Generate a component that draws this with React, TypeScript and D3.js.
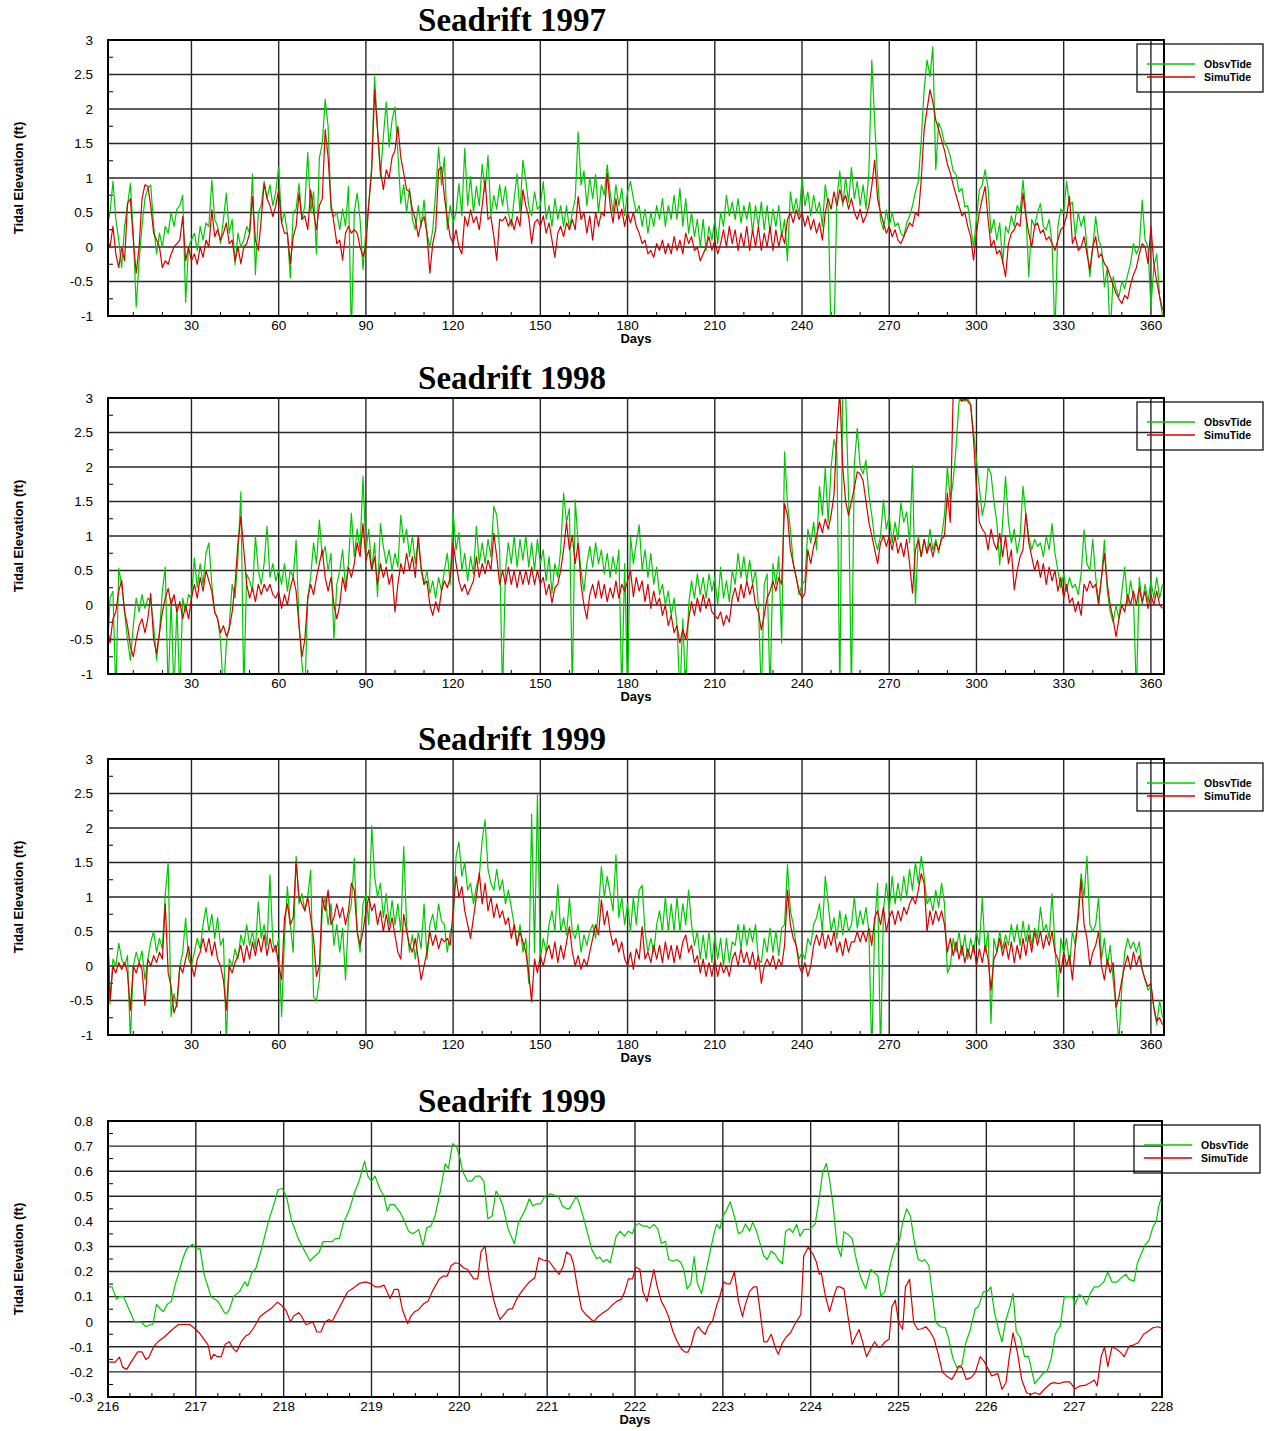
import React from 'react';
import * as d3 from 'd3';

const W = 1264;
const H = 1431;
const GREEN = '#00c800';
const RED = '#d60000';
const SANS = '"Liberation Sans", Arial, Helvetica, sans-serif';
const SERIF = '"Liberation Serif", "Times New Roman", Times, serif';

// ---------- yearly panels: one value per day, day 1 .. 364 ----------
const yearDays: number[] = d3.range(1, 365);

const obs1997 = [
  0.3,0.5,0.95,0.4,0.1,-0.3,0.3,0.6,0.92,0.2,
  -0.87,-0.2,0.3,0.7,0.85,0.9,0.3,-0.1,0.2,0,
  0.3,0.2,0.5,0.3,0.55,0.6,0.75,-0.8,0,0.1,
  0.2,-0.05,0.3,0.1,0.35,0.3,0.97,0.4,0.3,0.05,
  0.4,0.78,0.2,0.4,-0.26,0.2,0,0.1,0.3,0.2,
  1.06,-0.4,0.5,0.6,0.95,0.7,0.9,0.6,0.8,1.16,
  0.35,0.5,0.2,-0.45,0.5,0.55,0.92,0.4,0.6,1.37,
  0.5,0.8,-0.1,1.29,1.5,2.14,1.75,0.54,0.44,0.5,
  0.25,0.55,0.3,0.88,-1.3,0.5,0.78,0.4,-0.33,0.25,
  0.63,1.17,2.47,1.7,1.02,1.6,2.1,1.45,1.84,2.03,
  1.36,0.63,0.9,0.5,0.85,0.4,0.25,0.6,0.3,0.68,
  0.2,0,0.25,0.8,1.45,0.9,1.3,0.25,0.6,0.35,
  0.5,0.92,0.45,1.43,0.6,1.02,0.5,0.88,0.6,1.2,
  0.8,1.33,0.45,0.75,0.55,0.9,0.6,0.88,0.5,0.3,
  0.7,1.06,0.5,1.26,0.97,0.6,0.45,0.8,0.55,0.6,
  0.95,0.4,0.6,0.3,0.7,0.4,0.6,0.3,0.6,0.25,
  0.5,0.7,1.67,0.9,1.1,0.6,1,0.7,1.05,0.5,
  0.9,0.75,1.19,0.8,0.5,0.9,0.6,0.85,0.45,0.8,
  0.95,0.7,0.5,0.6,0.3,0.55,0.2,0.5,0.3,0.6,
  0.4,0.7,0.3,0.6,0.4,0.75,0.4,0.85,0.3,0.7,
  0.2,0.5,0.15,0.4,0,0.4,-0.05,0.3,0.1,0.4,
  0.05,0.5,0.3,0.75,0.45,0.65,0.4,0.7,0.35,0.6,
  0.4,0.65,0.2,0.6,0.3,0.65,0.25,0.6,0.2,0.55,
  0.3,0.6,0.15,0.4,-0.2,0.8,0.5,0.7,0.45,1,
  0.6,0.8,0.45,0.75,0.5,0.65,0.3,0.9,0.6,-1.3,
  -1.3,0.7,1.1,0.6,1,0.65,1.15,0.7,0.95,0.6,
  0.9,0.55,1.1,2.71,1.8,1,0.4,0.25,0.54,0.3,
  0.5,0.3,0.35,0.2,0.15,0.35,0.45,0.6,0.8,0.95,
  1.55,2.28,2.71,2.47,2.9,1.12,1.8,1.7,1.5,1.45,
  1.31,1.1,1.05,0.8,0.85,0.58,0.6,0.3,0,0.4,
  0.83,0.9,1.12,0.85,0.2,0.4,0.1,0.35,-0.24,0.3,
  0.2,0.45,0.3,0.6,0.5,0.97,0.5,-0.43,0.4,0.3,
  0.5,0.63,0.3,0.25,0.4,0.05,-1.3,0.3,0.55,0.5,
  0.95,0.6,0.65,0.15,0.5,0.3,0.45,0,-0.43,0,
  0.44,0.1,0,-0.58,-0.3,-1.3,-0.43,-0.6,-0.72,-0.5,
  -0.6,-0.4,-0.24,0.05,-0.1,0,0.68,0.1,0,-0.87,
  -0.3,-0.1,-0.72,-1.0,
];

const simu1997 = [
  0.1,0,0.3,-0.1,-0.3,0,-0.2,0.63,0.7,0.1,
  -0.38,0,0.7,0.9,0.88,0.6,0.2,0.1,0,-0.3,
  -0.2,-0.25,-0.1,0,0.05,0.1,0.44,-0.2,0,-0.2,
  -0.1,-0.25,0,-0.15,0.1,0,0.54,0.15,0.25,0.1,
  0.2,0.35,0.05,0.1,-0.2,0,-0.24,0,0.05,0.2,
  0.73,0.1,-0.05,0.4,0.92,0.7,0.6,0.44,0.6,0.83,
  0.35,0.2,0.2,-0.24,0.15,0.3,0.78,0.4,0.45,0.25,
  0.83,0.5,0.25,0.6,0.7,1.7,1.3,0.63,0.35,0.05,
  0.1,-0.19,0.2,0.3,0.2,0.25,0.2,0,-0.14,0,
  0.63,1.12,2.28,1.7,1.12,0.83,1.12,1,1.3,1.4,
  1.75,1.3,1.07,0.83,0.8,0.54,0.4,0.15,0.35,0.44,
  0.2,-0.38,0.05,0.25,1.12,1.16,0.73,0.4,0.15,0.05,
  0.25,0,-0.1,0.44,0.3,0.54,0.35,0.44,0.25,0.6,
  0.97,0.4,0.44,0.15,-0.19,0.4,0.38,0.44,0.3,0.4,
  0.25,0.44,0.3,0.83,0.6,0.44,0.05,0.35,0.4,0.3,
  0.45,0.2,0.35,0.1,-0.15,0.2,0.3,0.15,0.35,0.25,
  0.4,0.25,0.73,0.4,0.5,0.2,0.45,0.1,0.5,0.3,
  0.5,0.45,1.07,0.6,0.35,0.7,0.4,0.55,0.3,0.5,
  0.35,0.5,0.3,0.2,0.05,0.1,-0.1,-0.05,-0.15,0.05,
  -0.05,0.1,-0.1,0.05,-0.1,0.15,-0.05,0.1,-0.1,0.2,
  0.05,0.15,-0.05,0,-0.2,-0.1,0,0.15,-0.05,0.1,
  -0.1,0.05,0.25,0,0.3,0.05,0.25,-0.05,0.2,0,
  0.3,-0.05,0.25,0,0.3,-0.05,0.2,0,0.3,-0.05,
  0.25,0,0.2,0.05,0.4,0.5,0.35,0.54,0.4,0.5,
  0.3,0.45,0.25,0.4,0.2,0.35,0.1,0.5,0.7,0.55,
  0.8,0.6,0.83,0.65,0.75,0.55,0.7,0.5,0.4,0.55,
  0.35,0.45,0.6,0.88,1.26,0.7,0.5,0.35,0.2,0.3,
  0.15,0.25,0.1,0.05,0.15,0.25,0.35,0.3,0.5,0.45,
  0.97,1.7,1.99,2.28,2.1,1.84,1.7,1.55,1.4,1.2,
  1.07,0.9,0.75,0.6,0.45,0.5,0.3,0.15,-0.19,0.2,
  0.5,0.7,0.88,0.4,0,0.1,-0.1,-0.05,-0.2,-0.43,
  0.05,0.2,0.25,0.35,0.3,0.78,0.45,0.2,0,0.3,
  0.35,0.2,0.25,0.1,0.15,0.05,-0.05,0.1,0.25,0.3,
  0.45,0.73,0.05,0.15,-0.05,0,0.15,-0.1,-0.33,0,
  0.15,-0.15,-0.1,-0.24,-0.3,-0.43,-0.55,-0.67,-0.75,-0.82,
  -0.7,-0.75,-0.55,-0.4,-0.3,-0.1,0.05,0,-0.24,0.3,
  -0.24,-0.5,-0.72,-0.91,
];

const obs1998 = [
  -0.8,0.1,0.2,-1.3,0.53,0.3,-0.1,-0.5,-0.8,-0.3,
  0.1,-0.1,0.15,-0.05,0.1,0.05,-0.3,-0.8,-0.4,0.2,
  0.55,-1.3,0.1,-1.3,0,-1.3,0.1,-0.1,0.15,0.1,
  0.68,0.25,0.6,0.3,0.75,0.9,0.3,-0.1,-0.2,-0.5,
  -1.3,-0.55,-0.3,0.3,0.1,0.7,1.64,-1.3,0.45,0.35,
  0.2,1,0.5,0.3,0.6,1.14,0.4,0.6,0.35,0.5,
  0.3,0.6,0.2,0.5,0.4,0.94,-0.27,-0.85,-1.3,0.1,
  0.4,0.9,0.6,1.23,0.7,0.85,0.5,0.75,-0.5,0.3,
  0.5,0.8,0.25,0.6,1.33,0.7,1.1,0.8,1.86,0.8,
  1.1,0.5,0.9,0.12,1.18,0.85,0.6,0.8,0.5,0.75,
  0.55,1.3,0.9,1.1,0.7,1,0.6,0.95,0.5,0.3,
  0.5,0.17,0.35,0.1,0.4,0.2,0.5,0.75,0.3,1.35,
  0.8,1.05,0.5,0.75,0.35,0.7,0.45,1.14,0.6,0.9,
  0.6,0.95,0.7,1.43,1.3,0.8,-1.3,0.5,0.9,0.6,
  1,0.55,0.95,0.65,1,0.55,0.9,0.5,0.95,0.6,
  0.8,0.35,0.7,0.17,0.6,0.4,0.8,1.62,1.2,1.4,
  -1.3,1.52,0.9,0.5,0.2,0.6,0.85,0.55,0.9,0.6,
  0.8,0.45,0.75,0.4,0.7,0.45,0.8,-1.3,0.6,-1.3,
  1,0.6,0.9,1.16,0.5,0.8,0.4,0.75,0.3,0.55,
  0.15,0.3,0,0.2,-0.15,0.1,-0.3,-1.3,-0.2,-1.3,
  0,0.35,0.1,0.45,0.15,0.4,0.1,0.45,0.2,0.4,
  0,0.55,0.1,0.35,0.05,0.5,0.3,0.75,0.4,0.7,
  0.35,0.65,0.3,0.5,0,-1.3,0.3,0.45,-1.3,0.6,
  0.3,0.7,-0.55,2.22,1.47,1.1,0.6,0.4,0.15,0.3,
  0.35,1.1,0.9,1.2,0.8,1.72,1.3,1.98,1.2,2,
  2.4,2.2,-1.3,3.1,3.1,1.6,-1.3,2.05,2.56,2,
  1.9,2.1,1.6,1.3,0.95,0.8,1,1.52,1.1,1.3,
  0.9,1.2,0.95,1.48,1.2,1.35,0.9,2.02,0,1,
  0.7,0.95,0.75,1.1,0.8,0.95,0.75,1,1.3,2,
  1.5,1.8,2.3,2.95,3,2.95,3,2.9,2.5,2.1,
  1.7,1.3,1.5,2,1.9,1.5,1.2,0.58,1.2,1.86,
  1.2,0.9,1.1,0.75,1,1.72,1.3,1,0.8,0.95,
  0.85,0.9,0.7,1,0.8,1.18,0.75,0.5,0.25,0.45,
  0.2,0.4,0.25,0.3,0.15,0.45,1.09,0.6,0.5,0.95,
  0.4,0.05,0.4,0.94,0.2,-0.1,-0.25,0,-0.2,0.2,
  0.55,0,0.35,0.1,-1.3,0.4,0,0.3,0.05,0.35,
  0.1,0.4,0.1,0.3,
];

const simu1998 = [
  -0.3,-0.55,-0.2,-0.1,0.2,0.36,-0.1,-0.3,-0.6,-0.75,
  -0.5,-0.3,-0.2,-0.4,-0.2,0.17,-0.5,-0.7,-0.4,-0.1,
  0.1,0.24,0,0.15,-0.1,0.05,-0.2,0,-0.2,0.1,
  0.3,0.1,0.4,0.2,0.5,0.35,0.2,-0.1,-0.2,-0.4,
  -0.3,-0.45,-0.35,-0.1,0.3,0.9,1.28,0.8,0.3,0.1,
  0.25,0.05,0.3,0.15,0.3,0.2,0.3,0.15,0.1,0.2,
  -0.05,0.15,0,0.25,0.4,0.2,-0.3,-0.75,-0.5,0.1,
  0.3,0.15,0.4,0.6,0.8,0.4,0.2,0.4,0,-0.2,
  0,0.4,0.2,0.55,0.4,0.6,0.9,0.7,1.18,0.65,
  0.8,0.5,0.7,0.3,0.6,0.4,0.55,0.3,0.45,-0.1,
  0.3,0.6,0.45,0.75,0.5,0.7,0.4,1,0.55,0.3,
  0.35,0,-0.15,0.05,-0.1,0.2,0.35,0.25,0.4,0.9,
  0.6,0.35,0.2,0.3,0.15,0.25,0.35,0.7,0.4,0.6,
  0.45,0.65,0.5,1.04,0.7,0.3,0.5,0.3,0.55,0.3,
  0.5,0.25,0.5,0.3,0.5,0.3,0.55,0.3,0.5,0.3,
  0.4,0.15,0.3,0.03,0.25,0.3,0.5,0.8,1.2,0.8,
  1,0.6,0.9,0.3,0,-0.2,0.15,0.3,0.1,0.35,
  0.1,0.3,0.05,0.25,0.1,0.35,0.1,0.3,0.2,0.35,
  0.5,0.12,0.4,0.2,0.35,0.05,0.3,-0.05,0.2,0,
  0.1,-0.15,0,-0.3,-0.15,-0.4,-0.3,-0.55,-0.35,-0.5,
  -0.2,0.05,-0.15,0.1,-0.1,0.15,-0.05,0.1,-0.1,-0.15,
  -0.2,-0.1,-0.3,-0.15,-0.25,0.1,0.25,0.05,0.3,0.1,
  0.35,0.15,0.3,0,-0.1,-0.36,-0.15,0.1,0.2,0.35,
  0.2,0.4,0.3,1.47,1.3,0.8,0.6,0.4,0.2,0.1,
  0.17,0.8,0.6,0.85,1,1.2,1.05,1.25,1.1,1.3,
  1.6,2.5,3.1,2,1.5,1.3,1.5,1.7,1.93,1.9,
  1.8,1.5,1.2,1,0.8,0.6,0.9,1,0.85,1,
  0.8,1,0.75,0.9,0.7,0.95,0.6,0.17,0.8,0.95,
  0.7,0.95,0.75,0.9,0.7,0.9,0.8,0.95,1,1.62,
  1.2,3.1,3.1,3,2.95,3,2.95,2.9,2.4,1.7,
  1.2,1.1,1.04,0.8,1.1,0.9,0.8,1.04,0.7,1,
  0.6,0.8,0.22,0.5,0.7,0.8,1.33,0.9,0.7,0.5,
  0.65,0.4,0.6,0.3,0.55,0.35,0.5,0.2,0.4,0.1,
  0.3,0.03,0.1,-0.1,0.05,-0.15,0.3,0.2,0.35,0.25,
  0.3,0,0.4,0.75,0.3,0,-0.2,-0.46,-0.2,0,
  -0.1,0.15,0,0.2,0,0.25,0.05,0.2,-0.05,0.15,
  0,0.2,0,-0.05,
];

const obs1999 = [
  0.96,-0.55,0.1,0,0.33,0.1,0,0.15,-1.1,0,
  0.2,0.05,0.22,-0.2,0.1,0.35,0.5,0.2,0.4,0.25,
  1.05,1.51,-0.73,-0.4,-0.6,0,0.2,0.69,0.1,0,
  0.2,0.4,0.25,0.6,0.85,0.5,0.75,0.4,0.7,0.3,
  0.4,-1.1,0.1,0,0.25,0.1,0.45,0.3,0.6,0.3,
  0.5,0.25,0.93,0.4,0.6,0.3,1.32,0.35,0.2,0.4,
  -0.73,0.4,1.15,0.6,0.2,1.59,0.9,1.05,0.8,1,
  1.39,-0.45,-0.5,-0.2,0.8,1,0.6,0.9,0.3,0.6,
  0.2,0.55,-0.2,0.7,0.9,1.56,0.5,0.2,0.9,1.05,
  0.6,2.03,1.3,1,1.2,0.7,1.05,0.6,0.95,0.6,
  0.9,0.5,1.73,0.6,0.2,0.45,0.1,0.5,0.25,0.9,
  0.1,0.6,0.75,0.5,0.9,0.65,0.6,0.2,0.5,0.6,
  1.59,1.8,1.3,1.5,1.1,1.2,0.9,1.15,1.3,1.83,
  2.12,1.4,1.2,1.1,1.4,1.1,1.25,0.9,1.1,0.85,
  0.6,0.3,0.6,0.2,0.4,-0.25,2.2,0.2,2.48,0.1,
  0.4,0.2,0.6,0.8,0.5,1.18,0.5,0.7,0.45,0.98,
  0.5,0.4,0.6,0.2,0.45,0.3,0.5,0.6,0.4,0.8,
  1.44,1,1.3,1.05,0.8,1.61,0.7,1,0.6,0.9,
  0.5,1,0.6,1.1,1.17,0.5,0.2,0.4,0.2,0.6,
  0.8,0.5,1,0.5,0.9,0.5,1,0.5,0.9,0.6,
  1.1,0.6,0.3,0.5,0.1,0.45,0.1,0.5,0.05,0.45,
  0.1,0.4,0,0.4,0.05,0.35,0.3,0.6,0.25,0.6,
  0.3,0.55,0.35,0.6,0.1,0.05,0.4,0.2,0.55,0.2,
  0.5,0.15,0.55,0.6,1.47,0.8,0.6,0.3,0.1,0.2,
  0.1,0.4,0.3,0.6,0.7,0.9,0.5,1.3,0.9,0.5,
  0.7,0.4,0.8,0.45,0.75,0.5,0.6,1,0.55,0.8,
  0.6,0.85,0.5,-1.3,0.6,1.2,-1.3,0.8,1.2,0.8,
  1.3,0.9,1.2,0.95,1.3,1,1.4,1.1,1.5,1.2,
  1.59,1.3,0.9,1,0.8,1.1,0.85,1.2,0.9,-0.1,
  0,0.4,0.2,0.5,0.15,0.45,0.1,0.4,0.2,0.5,
  0.3,0.98,0.2,0.5,-0.83,0.4,0.2,0.5,0.25,0.45,
  0.3,0.6,0.35,0.6,0.3,0.65,0.35,0.6,0.3,0.55,
  0.4,0.85,0.5,0.6,0.4,1.05,0.3,-0.45,0.4,0.2,
  0.4,0,0.5,0.3,0.8,1.34,1,1.59,0.6,0.5,
  0.6,1,0.1,0.4,0,0.3,-0.2,-0.6,-1.1,-0.3,
  0.2,0.4,0.25,0.35,0.2,0.35,-0.05,-0.2,-0.35,-0.3,
  -0.6,-0.85,-0.5,-0.75,
];

const simu1999 = [
  0.76,-0.5,0,-0.1,0.05,-0.05,0.05,-0.1,-0.64,0,
  -0.1,0.05,-0.05,-0.57,0.1,0,0.15,0.05,0.2,0.1,
  0.9,-0.1,-0.3,-0.68,-0.55,0,-0.1,0.1,0.28,0,
  -0.15,0.1,0.2,0.4,0.2,0.4,0.15,0.35,0.1,0,
  -0.2,-0.64,0,-0.1,0.05,0.15,0.3,0.05,0.3,0.1,
  0.35,0.15,0.4,0.2,0.45,0.15,0.4,0.2,0.3,0,
  -0.2,0.7,0.9,0.6,0.7,1.51,1,0.9,0.8,1,
  0.7,0.4,-0.15,0,1,0.8,1.1,0.6,0.7,0.9,
  0.7,0.85,0.6,0.8,1.2,1.1,0.5,0.3,0.5,0.8,
  1,0.8,0.9,0.6,0.8,0.5,0.75,0.5,0.7,0.45,
  0.2,0.1,0.75,0.5,0.3,0.2,0.4,0.1,-0.2,0,
  0.2,0.5,0.3,0.45,0.25,0.4,0.35,0.4,0.3,0.8,
  1.3,1,1.15,0.8,0.6,0.4,0.7,1,1.35,0.9,
  1.2,0.8,1,0.7,0.9,0.7,0.8,0.6,0.7,0.4,
  0.6,0.3,0.5,0.35,0.2,-0.1,-0.52,0.1,-0.1,0.15,
  0,0.2,0.3,0.1,0.35,0.05,0.3,0.1,0.35,0.57,
  0.2,0,0.15,-0.05,0.1,0,0.2,0.4,0.6,0.45,
  0.96,0.6,0.8,0.5,0.3,0.4,0.2,0.35,0.1,0,
  0.2,-0.05,0.25,0.1,0.57,0.1,0.2,0.05,0.3,0.1,
  0.3,0.05,0.35,0.1,0.3,0.05,0.3,0.1,0.35,0.45,
  0.2,0.3,0.05,0.15,-0.1,0.1,-0.15,0.05,-0.15,0.1,
  -0.15,0.05,-0.1,0,-0.15,0.1,0.2,0,0.25,0.05,
  0.2,0,0.2,-0.05,0.15,-0.25,0,0.1,0,0.15,
  -0.05,0.1,0,0.3,1.1,0.6,0.4,0.3,0,-0.1,
  0.05,-0.15,0,0.3,0.45,0.3,0.5,0.25,0.45,0.3,
  0.5,0.2,0.35,0.15,0.4,0.2,0.35,0.35,0.5,0.35,
  0.5,0.35,0.55,0.3,0.7,0.8,0.6,0.85,0.5,0.7,
  0.8,0.6,0.8,0.65,0.85,0.75,0.9,1,0.9,1.1,
  1.34,1.2,0.5,0.8,0.6,0.8,0.65,0.8,0.6,0.2,
  0.4,0.15,0.35,0.1,0.3,0.05,0.25,0.1,0.3,0,
  0.25,0.05,0.3,0.1,-0.35,0.1,0.2,0.4,0.15,0.35,
  0.1,0.35,0.05,0.3,0.1,0.4,0.15,0.45,0.2,0.5,
  0.3,0.5,0.25,0.45,0.3,0.5,0.2,0.1,-0.1,0.2,
  0,0.15,-0.2,0.3,0.7,1.25,0.6,0.4,0,0.2,
  0.3,0.5,0,-0.2,0.1,-0.1,0.05,-0.6,-0.45,-0.2,
  0,0.15,-0.05,0.2,0,0.15,-0.05,-0.2,-0.3,-0.25,
  -0.6,-0.8,-0.75,-0.85,
];

// ---------- detail panel: days 216 - 228 of 1999 ----------
const detailObs: [number, number][] = [
  [216.000,0.139],[216.046,0.139],[216.097,0.089],[216.130,0.1],[216.176,0.1],[216.223,0.062],[216.301,0],[216.376,0],
  [216.431,-0.02],[216.478,-0.012],[216.510,-0.011],[216.552,0.069],[216.593,0.052],[216.631,0.04],[216.672,0.069],
  [216.723,0.082],[216.765,0.149],[216.807,0.195],[216.848,0.248],[216.895,0.291],[216.964,0.309],[217.001,0.288],
  [217.048,0.291],[217.094,0.189],[217.173,0.1],[217.252,0.082],[217.326,0.036],[217.349,0.032],[217.382,0.049],
  [217.428,0.1],[217.497,0.12],[217.558,0.159],[217.590,0.142],[217.637,0.195],[217.683,0.212],[217.752,0.295],
  [217.822,0.394],[217.882,0.461],[217.938,0.527],[217.984,0.531],[218.031,0.501],[218.086,0.408],[218.170,0.328],
  [218.239,0.282],[218.299,0.242],[218.355,0.262],[218.401,0.275],[218.448,0.319],[218.494,0.319],[218.550,0.319],
  [218.587,0.331],[218.633,0.331],[218.680,0.392],[218.749,0.448],[218.809,0.517],[218.865,0.567],[218.921,0.64],
  [218.958,0.58],[219.000,0.56],[219.041,0.58],[219.097,0.527],[219.143,0.501],[219.180,0.441],[219.213,0.467],
  [219.259,0.467],[219.329,0.434],[219.375,0.401],[219.421,0.361],[219.468,0.351],[219.514,0.361],[219.537,0.368],
  [219.584,0.301],[219.630,0.375],[219.676,0.381],[219.723,0.421],[219.783,0.521],[219.839,0.629],[219.876,0.61],
  [219.922,0.709],[219.968,0.697],[220.001,0.66],[220.038,0.6],[220.094,0.56],[220.140,0.56],[220.186,0.58],
  [220.233,0.58],[220.279,0.56],[220.325,0.41],[220.372,0.421],[220.418,0.521],[220.451,0.501],[220.497,0.461],
  [220.557,0.368],[220.627,0.311],[220.673,0.394],[220.743,0.441],[220.798,0.49],[220.835,0.461],[220.882,0.47],
  [220.928,0.47],[220.975,0.501],[221.044,0.51],[221.090,0.501],[221.127,0.501],[221.174,0.461],[221.220,0.45],
  [221.253,0.45],[221.331,0.499],[221.368,0.47],[221.424,0.401],[221.508,0.288],[221.563,0.252],[221.600,0.258],
  [221.637,0.238],[221.679,0.248],[221.716,0.235],[221.786,0.341],[221.832,0.361],[221.879,0.341],[221.925,0.361],
  [221.971,0.351],[221.999,0.381],[222.042,0.392],[222.089,0.381],[222.136,0.381],[222.168,0.372],[222.215,0.388],
  [222.262,0.368],[222.299,0.312],[222.346,0.321],[222.383,0.248],[222.430,0.242],[222.477,0.248],[222.523,0.235],
  [222.556,0.208],[222.593,0.131],[222.636,0.153],[222.673,0.259],[222.710,0.153],[222.757,0.112],[222.813,0.208],
  [222.860,0.288],[222.897,0.348],[222.930,0.388],[222.967,0.371],[223.000,0.421],[223.047,0.448],[223.084,0.478],
  [223.140,0.408],[223.178,0.351],[223.224,0.361],[223.257,0.39],[223.304,0.361],[223.341,0.397],[223.383,0.361],
  [223.421,0.315],[223.467,0.262],[223.505,0.248],[223.551,0.282],[223.598,0.268],[223.631,0.248],[223.678,0.231],
  [223.715,0.361],[223.762,0.371],[223.794,0.355],[223.841,0.388],[223.879,0.341],[223.925,0.368],[223.991,0.368],
  [224.051,0.39],[224.098,0.494],[224.136,0.594],[224.178,0.631],[224.215,0.567],[224.252,0.474],[224.299,0.308],
  [224.346,0.259],[224.379,0.359],[224.425,0.348],[224.472,0.331],[224.519,0.248],[224.565,0.182],[224.626,0.131],
  [224.682,0.208],[224.729,0.195],[224.766,0.182],[224.799,0.102],[224.846,0.12],[224.893,0.208],[224.939,0.272],
  [224.986,0.315],[225.009,0.321],[225.047,0.394],[225.093,0.45],[225.136,0.421],[225.182,0.315],[225.224,0.248],
  [225.271,0.24],[225.299,0.248],[225.346,0.224],[225.383,0.116],[225.421,-0.001],[225.477,-0.02],[225.533,-0.024],
  [225.570,-0.064],[225.617,-0.143],[225.664,-0.183],[225.720,-0.174],[225.766,-0.084],[225.813,-0.037],[225.874,0.052],
  [225.911,0.06],[225.967,0.12],[226.014,0.12],[226.051,0.139],[226.093,0.036],[226.140,-0.033],[226.178,-0.08],
  [226.224,0.009],[226.271,0.062],[226.304,0.112],[226.341,-0.04],[226.388,-0.064],[226.435,-0.139],[226.481,-0.139],
  [226.551,-0.247],[226.598,-0.227],[226.645,-0.206],[226.692,-0.197],[226.738,-0.147],[226.785,-0.05],[226.841,-0.017],
  [226.888,0.1],[226.949,0.1],[226.981,0.1],[227.009,0.069],[227.056,0.109],[227.103,0.098],[227.140,0.069],
  [227.182,0.112],[227.229,0.139],[227.276,0.139],[227.336,0.158],[227.383,0.198],[227.430,0.158],[227.486,0.158],
  [227.533,0.174],[227.589,0.189],[227.626,0.169],[227.682,0.162],[227.720,0.234],[227.766,0.272],[227.804,0.304],
  [227.850,0.323],[227.897,0.377],[227.935,0.401],[227.963,0.461],[228.000,0.501],
];

const detailSimu: [number, number][] = [
  [216.000,-0.161],[216.083,-0.161],[216.130,-0.141],[216.167,-0.181],[216.213,-0.19],[216.269,-0.157],[216.338,-0.12],
  [216.385,-0.12],[216.431,-0.15],[216.464,-0.143],[216.524,-0.097],[216.570,-0.08],[216.640,-0.061],[216.733,-0.031],
  [216.802,-0.011],[216.872,-0.011],[216.932,-0.011],[217.001,-0.031],[217.048,-0.048],[217.094,-0.07],[217.140,-0.093],
  [217.173,-0.15],[217.205,-0.13],[217.242,-0.139],[217.289,-0.139],[217.335,-0.09],[217.382,-0.08],[217.428,-0.108],
  [217.465,-0.12],[217.521,-0.077],[217.567,-0.057],[217.604,-0.05],[217.660,-0.024],[217.729,0.02],[217.799,0.039],
  [217.868,0.056],[217.929,0.078],[217.975,0.066],[218.031,0.042],[218.077,0],[218.114,0.023],[218.170,0.036],
  [218.207,0.02],[218.253,-0.011],[218.286,-0.008],[218.332,0],[218.378,-0.041],[218.425,-0.041],[218.471,0],
  [218.517,0.009],[218.550,0],[218.633,0.056],[218.726,0.118],[218.796,0.135],[218.865,0.153],[218.935,0.159],
  [218.981,0.153],[219.041,0.139],[219.097,0.139],[219.143,0.146],[219.190,0.109],[219.213,0.093],[219.259,0.129],
  [219.306,0.129],[219.352,0.049],[219.412,-0.008],[219.445,0.02],[219.491,0.04],[219.537,0.049],[219.598,0.073],
  [219.644,0.082],[219.700,0.126],[219.769,0.169],[219.815,0.182],[219.862,0.182],[219.908,0.224],[219.955,0.235],
  [220.001,0.231],[220.047,0.215],[220.094,0.208],[220.163,0.171],[220.209,0.171],[220.247,0.279],[220.293,0.301],
  [220.339,0.175],[220.395,0.082],[220.441,0.029],[220.465,0.009],[220.511,0.029],[220.557,0.049],[220.604,0.052],
  [220.650,0.089],[220.720,0.126],[220.789,0.155],[220.859,0.175],[220.905,0.255],[220.951,0.246],[221.021,0.242],
  [221.090,0.208],[221.137,0.189],[221.183,0.222],[221.220,0.278],[221.267,0.266],[221.299,0.232],[221.345,0.135],
  [221.392,0.049],[221.438,0.029],[221.531,0],[221.577,0.02],[221.637,0.036],[221.693,0.049],[221.749,0.069],
  [221.795,0.082],[221.841,0.089],[221.879,0.116],[221.925,0.171],[221.971,0.171],[222.009,0.218],[222.056,0.208],
  [222.089,0.122],[222.136,0.08],[222.215,0.208],[222.252,0.142],[222.299,0.082],[222.346,0.052],[222.383,0.02],
  [222.430,-0.037],[222.477,-0.077],[222.533,-0.11],[222.570,-0.121],[222.603,-0.121],[222.636,-0.097],[222.682,-0.037],
  [222.720,-0.02],[222.766,-0.04],[222.799,-0.05],[222.836,-0.017],[222.883,0.003],[222.930,0.065],[222.967,0.102],
  [223.009,0.159],[223.047,0.151],[223.084,0.151],[223.131,0.198],[223.178,0.082],[223.224,0.02],[223.257,0.069],
  [223.304,0.12],[223.350,0.139],[223.388,0.139],[223.421,0.049],[223.467,-0.08],[223.505,-0.08],[223.551,-0.05],
  [223.598,-0.104],[223.631,-0.13],[223.678,-0.084],[223.724,-0.06],[223.771,-0.044],[223.818,-0.011],[223.888,0.029],
  [223.921,0.262],[223.972,0.297],[224.028,0.268],[224.065,0.238],[224.098,0.189],[224.121,0.195],[224.168,0.102],
  [224.215,0.04],[224.262,0.1],[224.299,0.139],[224.332,0.139],[224.379,0.131],[224.425,0.02],[224.472,-0.09],
  [224.505,-0.064],[224.551,-0.031],[224.589,-0.077],[224.636,-0.139],[224.682,-0.108],[224.729,-0.08],[224.766,-0.101],
  [224.799,-0.101],[224.846,-0.08],[224.893,-0.07],[224.925,0.06],[224.963,0.086],[225.000,0],[225.047,-0.031],
  [225.079,0.138],[225.126,0.169],[225.173,-0.004],[225.220,-0.031],[225.266,-0.028],[225.313,-0.02],[225.360,-0.04],
  [225.407,-0.07],[225.453,-0.13],[225.500,-0.201],[225.547,-0.216],[225.607,-0.23],[225.640,-0.21],[225.687,-0.177],
  [225.724,-0.183],[225.771,-0.23],[225.827,-0.223],[225.874,-0.203],[225.930,-0.139],[225.977,-0.159],[226.023,-0.19],
  [226.061,-0.216],[226.107,-0.21],[226.131,-0.207],[226.178,-0.27],[226.224,-0.243],[226.262,-0.139],[226.304,-0.044],
  [226.355,-0.124],[226.402,-0.23],[226.458,-0.283],[226.505,-0.29],[226.551,-0.283],[226.607,-0.29],[226.668,-0.267],
  [226.729,-0.247],[226.776,-0.243],[226.822,-0.247],[226.888,-0.24],[226.949,-0.24],[227.009,-0.267],[227.065,-0.256],
  [227.121,-0.254],[227.182,-0.243],[227.229,-0.232],[227.262,-0.256],[227.308,-0.137],[227.346,-0.101],[227.383,-0.179],
  [227.430,-0.101],[227.486,-0.11],[227.533,-0.124],[227.570,-0.139],[227.626,-0.097],[227.673,-0.093],[227.729,-0.084],
  [227.790,-0.05],[227.836,-0.04],[227.897,-0.024],[227.953,-0.02],[228.000,-0.027],
];

// ---------- ticks ----------
const yearXTicks = [30, 60, 90, 120, 150, 180, 210, 240, 270, 300, 330, 360];
const yearXMinor = [10, 20, 40, 50, 70, 80, 100, 110, 130, 140, 160, 170, 190, 200, 220, 230, 250, 260, 280, 290, 310, 320, 340, 350];
const yearYTicks = [-1, -0.5, 0, 0.5, 1, 1.5, 2, 2.5, 3];
const yearYMinor = [-0.75, -0.25, 0.25, 0.75, 1.25, 1.75, 2.25, 2.75];

const detailXTicks = [216, 217, 218, 219, 220, 221, 222, 223, 224, 225, 226, 227, 228];
const detailXMinor = d3.range(216, 228).flatMap((d) => [d + 0.25, d + 0.5, d + 0.75]);
const detailYTicks = [-0.3, -0.2, -0.1, 0, 0.1, 0.2, 0.3, 0.4, 0.5, 0.6, 0.7, 0.8];
const detailYMinor = [-0.25, -0.15, -0.05, 0.05, 0.15, 0.25, 0.35, 0.45, 0.55, 0.65, 0.75];

const legendLabels = ['ObsvTide', 'SimuTide'];

type PanelProps = {
  id: string;
  title: string;
  top: number;
  left: number;
  right: number;
  xDomain: [number, number];
  yDomain: [number, number];
  xTicks: number[];
  xMinor: number[];
  yTicks: number[];
  yMinor: number[];
  obs: [number, number][];
  simu: [number, number][];
  legendX: number;
  legendY: number;
};

const PLOT_H = 276;

function Panel(p: PanelProps) {
  const bottom = p.top + PLOT_H;
  const x = d3.scaleLinear().domain(p.xDomain).range([p.left, p.right]);
  const y = d3.scaleLinear().domain(p.yDomain).range([bottom, p.top]);
  const line = d3
    .line<[number, number]>()
    .x((d) => x(d[0]))
    .y((d) => y(d[1]));
  const gridColor = '#262626';
  const innerX = p.xTicks.filter((t) => x(t) > p.left + 1 && x(t) < p.right - 1);
  const innerY = p.yTicks.filter((t) => y(t) > p.top + 1 && y(t) < bottom - 1);
  const midY = (p.top + bottom) / 2;
  const lx = p.legendX;
  const ly = p.legendY;
  return (
    <g>
      <defs>
        <clipPath id={p.id}>
          <rect x={p.left} y={p.top} width={p.right - p.left} height={PLOT_H} />
        </clipPath>
      </defs>
      <text
        x={512}
        y={p.top - 9}
        textAnchor="middle"
        fontFamily={SERIF}
        fontWeight="bold"
        fontSize={33}
        fill="#000"
      >
        {p.title}
      </text>
      {innerY.map((t) => (
        <line key={'gy' + t} x1={p.left} x2={p.right} y1={y(t)} y2={y(t)} stroke={gridColor} strokeWidth={1.4} />
      ))}
      {innerX.map((t) => (
        <line key={'gx' + t} x1={x(t)} x2={x(t)} y1={p.top} y2={bottom} stroke={gridColor} strokeWidth={1.4} />
      ))}
      {p.yMinor.map((t) => (
        <line key={'my' + t} x1={p.left} x2={p.left + 5} y1={y(t)} y2={y(t)} stroke="#000" strokeWidth={1} />
      ))}
      {p.xMinor.map((t) => (
        <line key={'mx' + t} x1={x(t)} x2={x(t)} y1={bottom} y2={bottom - 4} stroke="#000" strokeWidth={1} />
      ))}
      <g clipPath={`url(#${p.id})`}>
        <path d={line(p.obs) || ''} fill="none" stroke={GREEN} strokeWidth={1.2} strokeLinejoin="round" />
        <path d={line(p.simu) || ''} fill="none" stroke={RED} strokeWidth={1.2} strokeLinejoin="round" />
      </g>
      <rect
        x={p.left}
        y={p.top}
        width={p.right - p.left}
        height={PLOT_H}
        fill="none"
        stroke="#000"
        strokeWidth={2}
      />
      {p.yTicks.map((t) => (
        <text
          key={'ly' + t}
          x={p.left - 15}
          y={y(t)}
          dy="0.36em"
          textAnchor="end"
          fontFamily={SANS}
          fontSize={13.5}
          fill="#000"
        >
          {String(t)}
        </text>
      ))}
      {p.xTicks.map((t) => (
        <text
          key={'lx' + t}
          x={x(t)}
          y={bottom + 14}
          textAnchor="middle"
          fontFamily={SANS}
          fontSize={13.5}
          fill="#000"
        >
          {String(t)}
        </text>
      ))}
      <text
        x={(p.left + p.right) / 2 + 0}
        y={bottom + 27}
        textAnchor="middle"
        fontFamily={SANS}
        fontWeight="bold"
        fontSize={13}
        fill="#000"
      >
        Days
      </text>
      <text
        transform={`translate(23,${midY}) rotate(-90)`}
        textAnchor="middle"
        fontFamily={SANS}
        fontWeight="bold"
        fontSize={13}
        fill="#000"
      >
        Tidal Elevation (ft)
      </text>
      <rect x={lx} y={ly} width={126} height={48} fill="none" stroke="#000" strokeWidth={1.2} />
      <line x1={lx + 10} x2={lx + 58} y1={ly + 20} y2={ly + 20} stroke={GREEN} strokeWidth={1.6} />
      <line x1={lx + 10} x2={lx + 58} y1={ly + 33} y2={ly + 33} stroke={RED} strokeWidth={1.6} />
      {legendLabels.map((s, i) => (
        <text
          key={s}
          x={lx + 67}
          y={ly + 23.5 + i * 13}
          fontFamily={SANS}
          fontWeight="bold"
          fontSize={10.5}
          fill="#000"
        >
          {s}
        </text>
      ))}
    </g>
  );
}

function toPts(vals: number[]): [number, number][] {
  return yearDays.map((d, i) => [d, vals[i]] as [number, number]);
}

export default function App() {
  const yearPanels = [
    { id: 'c1997', title: 'Seadrift 1997', top: 40, obs: obs1997, simu: simu1997 },
    { id: 'c1998', title: 'Seadrift 1998', top: 398, obs: obs1998, simu: simu1998 },
    { id: 'c1999', title: 'Seadrift 1999', top: 759, obs: obs1999, simu: simu1999 },
  ];
  return (
    <div style={{ position: 'absolute', left: 0, top: 0, width: W, height: H, background: '#fff' }}>
      <svg width={W} height={H} viewBox={`0 0 ${W} ${H}`} style={{ display: 'block' }}>
        <rect x={0} y={0} width={W} height={H} fill="#fff" />
        {yearPanels.map((yp) => (
          <Panel
            key={yp.id}
            id={yp.id}
            title={yp.title}
            top={yp.top}
            left={108}
            right={1164}
            xDomain={[1.3, 364.5]}
            yDomain={[-1, 3]}
            xTicks={yearXTicks}
            xMinor={yearXMinor}
            yTicks={yearYTicks}
            yMinor={yearYMinor}
            obs={toPts(yp.obs)}
            simu={toPts(yp.simu)}
            legendX={1137}
            legendY={yp.top + 4}
          />
        ))}
        <Panel
          id="cdetail"
          title="Seadrift 1999"
          top={1121}
          left={108}
          right={1162}
          xDomain={[216, 228]}
          yDomain={[-0.3, 0.8]}
          xTicks={detailXTicks}
          xMinor={detailXMinor}
          yTicks={detailYTicks}
          yMinor={detailYMinor}
          obs={detailObs}
          simu={detailSimu}
          legendX={1134}
          legendY={1125}
        />
      </svg>
    </div>
  );
}
